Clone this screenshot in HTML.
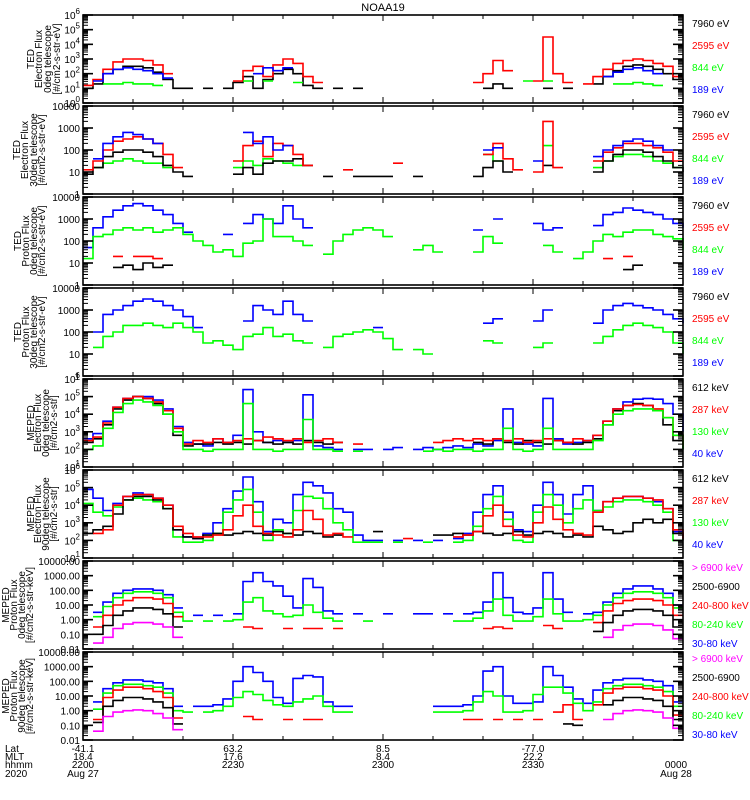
<!DOCTYPE html>
<html><head><meta charset="utf-8">
<style>
html,body{margin:0;padding:0;background:#fff;}
svg{display:block;font-family:"Liberation Sans","DejaVu Sans",sans-serif;}
</style></head>
<body>
<svg id="chart" width="750" height="800" viewBox="0 0 750 800" xmlns="http://www.w3.org/2000/svg">
<text x="383" y="11" font-size="11" text-anchor="middle">NOAA19</text>
<g id="panels"></g>
<g font-size="10">
<text x="5" y="752">Lat</text><text x="5" y="760">MLT</text><text x="5" y="768">hhmm</text><text x="5" y="777">2020</text>
<text x="83" y="752" text-anchor="middle">-41.1</text><text x="83" y="760" text-anchor="middle">18.4</text><text x="83" y="768" text-anchor="middle">2200</text><text x="83" y="777" text-anchor="middle">Aug 27</text>
<text x="233" y="752" text-anchor="middle">63.2</text><text x="233" y="760" text-anchor="middle">17.6</text><text x="233" y="768" text-anchor="middle">2230</text>
<text x="383" y="752" text-anchor="middle">8.5</text><text x="383" y="760" text-anchor="middle">8.4</text><text x="383" y="768" text-anchor="middle">2300</text>
<text x="533" y="752" text-anchor="middle">-77.0</text><text x="533" y="760" text-anchor="middle">22.2</text><text x="533" y="768" text-anchor="middle">2330</text>
<text x="676" y="768" text-anchor="middle">0000</text><text x="676" y="777" text-anchor="middle">Aug 28</text>
</g>
</svg>
<script>
const _=null;
const p1Black=[1.0,1.3,2.0,2.3,2.5,2.5,2.4,2.1,1.6,1.0, 1.0,_,1.0,_,1.0,1.4,1.8,1.0,1.6,2.0, 2.3,2.0,1.2,1.0,_,1.0,_,1.0,_,_, _,_,_,_,_,_,_,_,_,_, 1.0,1.3,1.0,_,_,_,1.0,_,1.0,_, _,1.3,1.8,2.2,2.5,2.6,2.5,2.3,2.0,1.6,1.2];
const p1Red=[1.2,1.6,2.3,2.8,3.0,3.0,2.9,2.6,2.0,_, _,_,_,_,_,1.5,2.2,2.5,1.8,2.6, 3.0,2.7,1.8,1.4,_,_,_,_,_,_, _,_,_,_,_,_,_,_,_,1.4, 2.0,2.9,2.2,_,_,1.5,4.5,2.0,1.4,_, 1.3,1.8,2.3,2.7,2.9,3.0,2.9,2.7,2.5,1.8,_];
const p1Green=[_,_,1.3,1.3,1.4,1.3,1.3,1.2,_,_, _,_,_,_,_,_,1.5,_,1.5,_, _,1.4,_,_,_,_,_,_,_,_, _,_,_,_,_,_,_,_,_,_, _,_,_,_,1.5,_,1.5,_,_,_, _,_,_,1.3,1.3,1.4,1.3,1.2,_,_,_];
const p1Blue=[_,1.5,2.0,2.3,2.4,2.3,2.2,2.0,1.7,_, _,_,_,_,_,_,_,2.0,2.4,2.2, 2.4,_,_,_,_,_,_,_,_,_, _,_,_,_,_,_,_,_,_,_, _,_,_,_,_,_,_,_,_,_, _,_,1.8,2.1,2.3,2.4,2.2,2.0,_,_,_];

const p2Black=[0.9,1.2,1.7,1.9,2.0,2.0,1.9,1.7,1.3,1.0, 0.8,_,_,_,_,0.9,1.2,0.9,1.4,1.5, 1.5,1.6,1.3,_,0.8,_,_,0.8,0.8,0.8, 0.8,_,_,0.8,_,_,_,_,_,0.8, 1.2,1.5,1.0,_,_,_,1.3,_,_,_, _,1.0,1.5,1.8,2.0,2.0,1.9,1.7,1.5,1.2,1.0];
const p2Red=[1.1,1.5,2.0,2.4,2.5,2.6,2.5,2.3,1.8,1.2, _,_,_,_,_,1.5,2.2,2.4,1.7,2.3, 2.2,1.8,1.3,_,_,_,1.1,_,_,_, _,1.4,_,_,_,_,_,_,_,_, 1.8,2.3,1.6,1.1,_,1.0,3.3,1.2,_,_, _,1.5,1.9,2.1,2.3,2.3,2.2,2.1,1.9,1.5,_];
const p2Green=[_,1.2,1.4,1.5,1.6,1.5,1.4,1.4,1.2,_, _,_,_,_,_,1.2,1.5,1.3,1.6,1.5, 1.4,1.3,_,_,_,_,_,_,_,_, _,_,_,_,_,_,_,_,_,_, 1.8,1.5,_,_,_,_,2.2,_,_,_, _,1.2,1.5,1.7,1.8,1.8,1.7,1.5,1.4,1.2,_];
const p2Blue=[_,1.6,2.3,2.6,2.8,2.7,2.5,2.3,_,_, _,_,_,_,_,_,2.8,2.3,2.6,2.0, 2.2,_,_,_,_,_,_,_,_,_, _,_,_,_,_,_,_,_,_,_, 2.0,2.1,_,_,_,1.5,_,_,_,_, _,1.7,2.0,2.2,2.4,2.5,2.4,2.2,2.0,_,_];

const p3Black=[_,_,_,0.8,0.9,0.7,1.0,0.8,0.9,_, _,_,_,_,_,_,_,_,_,_, _,_,_,_,_,_,_,_,_,_, _,_,_,_,_,_,_,_,_,_, _,_,_,_,_,_,_,_,_,_, _,_,_,_,0.7,0.9,_,_,_,_,_];
const p3Red=[_,_,_,1.3,_,1.3,1.3,1.2,_,_, _,_,_,_,_,_,_,_,_,_, _,_,_,_,_,_,_,_,_,_, _,_,_,_,_,_,_,_,_,_, _,_,_,_,_,_,_,_,_,_, _,_,1.2,_,1.3,_,_,_,_,_,_];
const p3Green=[1.2,2.2,2.3,2.5,2.6,2.5,2.6,2.4,2.5,2.6, 2.3,2.0,1.8,1.5,1.6,1.3,1.9,2.0,3.0,2.2, 2.2,2.0,1.8,_,1.4,2.0,2.3,2.5,2.6,2.5, 2.2,_,_,1.6,1.8,1.5,_,_,_,1.5, 2.2,1.9,_,_,_,_,1.8,1.5,_,1.2, 1.5,2.0,2.3,2.2,2.4,2.5,2.5,2.3,2.2,2.1,1.6];
const p3Blue=[1.7,2.6,3.1,3.4,3.6,3.7,3.6,3.4,3.2,2.8, 2.4,_,_,_,2.3,_,2.8,3.2,3.0,2.8, 3.6,3.0,2.6,_,_,_,_,_,_,_, _,_,_,_,_,_,_,_,_,2.5, _,3.0,_,_,_,2.8,2.5,2.6,_,_, _,2.7,3.2,3.3,3.5,3.4,3.3,3.2,3.0,2.8,2.6];

const p4Green=[_,1.3,1.8,2.0,2.3,2.3,2.4,2.3,2.2,2.4, 2.2,2.0,1.5,1.6,1.4,1.2,1.8,1.9,2.2,1.8, 1.9,1.6,1.5,_,1.3,1.8,1.9,2.0,2.1,2.0, 1.7,1.2,_,1.2,1.0,_,_,_,_,_, 1.6,1.5,_,_,_,1.3,1.5,_,_,_, _,1.5,1.8,2.1,2.3,2.4,2.3,2.2,2.0,1.5,1.0];
const p4Blue=[_,2.0,2.8,3.0,3.2,3.4,3.5,3.4,3.2,3.0, 2.7,2.2,_,_,_,_,2.5,3.2,3.0,2.8, 3.4,2.8,2.5,_,_,_,_,_,_,2.2, _,_,_,_,_,_,_,_,_,_, 2.4,2.6,_,_,_,2.5,3.0,_,_,_, _,2.4,3.0,3.2,3.3,3.2,3.1,3.0,2.8,2.6,2.4];

const p5Black=[2.4,2.6,3.4,4.3,4.8,5.0,4.9,4.6,4.0,2.8, 2.2,2.3,2.3,2.4,2.3,2.4,2.3,2.5,2.4,2.3, 2.4,2.3,2.5,2.4,2.3,2.4,_,_,_,_, _,_,_,_,_,_,_,_,_,2.4, 2.3,2.6,2.4,2.3,2.5,2.4,2.3,2.5,2.4,2.3, 2.4,2.6,3.4,4.2,4.5,4.6,4.5,4.2,3.4,2.5,2.0];
const p5Red=[2.5,2.7,3.5,4.4,4.9,5.0,4.9,4.7,4.2,3.2, 2.3,2.5,2.4,2.6,2.4,2.5,2.6,2.5,2.7,2.6, 2.5,2.6,2.4,2.5,2.6,2.4,_,2.3,_,_, _,_,_,_,_,2.4,2.5,2.6,2.5,2.6, 2.5,2.6,2.5,2.6,2.4,2.5,2.6,2.5,2.4,2.6, 2.5,2.8,3.6,4.3,4.5,4.55,4.5,4.3,3.8,2.8,2.2];
const p5Green=[2.0,2.2,3.2,4.1,4.6,4.8,4.7,4.5,4.0,3.0, 2.0,2.0,1.9,2.0,2.0,2.0,4.6,2.0,2.0,1.9, 2.0,2.0,3.7,2.0,2.0,1.9,_,1.9,_,_, _,_,_,_,1.9,2.0,1.9,2.0,2.0,1.9, 2.0,2.0,3.2,2.0,1.9,2.0,3.2,2.0,2.0,2.0, 2.0,2.5,3.4,4.0,4.2,4.3,4.3,4.2,3.8,2.8,2.0];
const p5Blue=[2.6,2.9,3.6,4.4,4.9,5.0,5.0,4.8,4.3,3.3, 2.4,2.3,2.2,2.6,2.4,2.8,5.4,3.0,2.4,2.5, 2.4,2.5,5.1,2.2,2.1,2.0,_,2.0,2.0,_, 2.0,2.1,_,2.0,2.1,2.0,2.1,2.2,2.1,2.3, 2.2,2.5,4.3,2.4,2.3,2.2,4.9,2.6,2.3,2.4, 2.5,2.8,3.6,4.3,4.7,4.85,4.9,4.85,4.6,4.0,3.0];

const p6Black=[2.4,2.6,2.8,3.5,4.3,4.5,4.5,4.3,3.8,2.6, 2.2,2.1,2.3,2.4,2.3,2.4,2.5,2.4,2.3,2.5, 2.4,2.3,2.5,2.4,2.2,2.3,_,_,_,2.5, _,_,_,_,_,2.3,2.3,2.4,2.3,2.5, 2.4,2.3,2.4,2.5,2.3,2.4,2.5,2.4,2.2,2.3, 2.2,2.8,2.6,2.4,2.5,3.0,3.2,3.0,3.2,2.4,2.0];
const p6Red=[_,2.4,2.6,4.0,4.5,4.6,4.6,4.4,4.0,2.8, 2.4,2.2,2.2,2.3,2.6,3.4,4.0,2.8,2.4,2.3, 2.2,2.6,3.7,3.2,2.3,2.4,2.2,_,_,_, _,_,2.1,_,_,_,_,2.2,2.3,2.5, 3.4,4.0,2.8,2.3,2.2,3.0,3.9,3.2,2.6,2.4, 2.3,3.6,4.2,4.4,4.5,4.5,4.4,4.3,3.8,2.6,2.1];
const p6Green=[4.1,3.6,3.4,3.9,4.3,4.4,4.3,4.2,3.8,2.2, 1.9,1.9,2.0,2.4,3.6,4.3,4.9,3.6,2.0,2.6, 2.4,3.7,4.5,4.4,3.8,3.0,2.6,1.9,1.9,1.9, _,1.9,_,_,1.9,_,_,1.9,2.0,2.8, 3.8,4.5,3.2,2.0,1.9,3.6,4.6,4.0,3.0,3.8, 4.3,3.7,3.9,4.2,4.3,4.3,4.2,4.0,3.6,2.0,2.0];
const p6Blue=[4.9,4.4,3.7,4.1,4.5,4.7,4.6,4.4,4.0,2.6, 2.2,2.1,2.4,3.0,3.8,4.8,5.6,4.2,2.5,3.2, 3.0,4.6,5.3,5.1,4.7,3.8,3.6,2.3,2.0,2.0, _,2.0,_,2.0,_,2.0,_,2.1,2.4,3.6, 4.6,5.1,3.6,2.6,2.5,4.0,5.3,4.6,3.5,4.6, 5.1,3.7,4.2,4.4,4.5,4.5,4.4,4.2,3.8,2.5,2.5];

const p7Magenta=[_,-1.6,-1.2,-0.6,-0.3,-0.2,-0.2,-0.3,-0.5,-1.2, _,_,_,_,_,_,_,_,_,_, _,_,_,_,_,_,_,_,_,_, _,_,_,_,_,_,_,_,_,_, _,_,_,_,_,_,_,_,_,_, _,_,-1.2,-0.7,-0.4,-0.3,-0.3,-0.4,-0.7,-1.3,_];
const p7Black=[_,-1.0,-0.4,0.3,0.6,0.8,0.8,0.7,0.4,-0.5, _,_,_,_,_,_,_,_,_,_, _,_,_,_,_,_,_,_,_,_, _,_,_,_,_,_,_,_,_,_, _,_,_,_,_,_,_,_,_,_, _,-0.8,-0.2,0.3,0.6,0.7,0.7,0.6,0.3,-0.5,_];
const p7Red=[_,-0.5,0.3,1.0,1.3,1.5,1.5,1.4,1.1,0.2, _,_,_,_,_,_,-0.5,-0.6,_,_, -0.6,_,-0.6,-0.6,_,-0.6,_,_,_,_, _,_,_,_,_,_,_,_,_,_, -0.6,-0.5,-0.6,_,_,_,-0.4,-0.6,_,_, _,-0.2,0.6,1.1,1.3,1.4,1.4,1.3,1.0,0.3,_];
const p7Green=[_,0.2,0.9,1.5,1.8,1.9,1.9,1.8,1.5,0.5, -0.1,_,-0.1,_,-0.1,0.0,1.2,1.5,0.6,0.4, 0.2,0.3,1.0,0.5,0.1,-0.1,_,_,-0.1,_, _,_,_,_,_,_,_,-0.1,-0.1,0.1, 0.6,1.4,0.3,-0.1,-0.1,0.2,1.4,0.4,-0.1,-0.1, 0.0,0.3,1.0,1.5,1.8,1.9,1.9,1.8,1.5,0.8,_];
const p7Blue=[_,0.5,1.2,1.8,2.0,2.1,2.1,2.0,1.7,0.8, _,0.3,_,0.3,_,0.4,2.6,3.2,2.6,2.3, 1.6,0.8,2.8,2.2,0.6,0.4,_,0.4,_,_, 0.4,_,_,0.4,0.4,_,0.4,_,0.4,0.5, 1.2,3.2,1.5,0.5,0.4,0.8,3.2,1.4,0.5,_, 0.4,0.5,1.2,1.8,2.1,2.3,2.3,2.1,1.8,1.0,_];

const p8Magenta=[_,-1.4,-0.4,-0.1,0.0,0.05,0.0,-0.2,-0.5,-1.3, _,_,_,_,_,_,_,_,_,_, _,_,_,_,_,_,_,_,_,_, _,_,_,_,_,_,_,_,_,_, _,_,_,_,_,_,_,_,_,_, _,_,-0.6,-0.2,0.0,0.05,0.0,-0.1,-0.5,-1.2,_];
const p8Black=[_,-0.8,0.3,0.7,0.9,0.9,0.8,0.6,0.2,-0.9, _,_,_,_,_,_,_,_,_,_, _,_,_,_,_,_,_,_,_,_, _,_,_,_,_,_,_,_,_,_, _,_,_,_,_,_,_,_,-0.9,-1.0, _,_,0.4,0.7,0.9,0.9,0.8,0.7,0.3,-0.6,_];
const p8Red=[_,-0.6,0.9,1.4,1.6,1.6,1.5,1.3,0.9,-0.5, _,_,_,_,_,_,-0.4,-0.6,_,_, -0.6,_,-0.6,-0.6,_,_,_,_,_,_, _,_,_,_,_,_,_,_,-0.6,-0.6, _,-0.6,_,-0.6,_,-0.6,_,-0.1,0.4,-0.6, _,0.4,1.2,1.5,1.6,1.6,1.5,1.4,1.0,-0.3,_];
const p8Green=[_,0.1,1.2,1.7,1.8,1.8,1.7,1.6,1.2,0.0, -0.1,_,-0.1,0.0,0.3,0.9,1.3,1.1,0.7,0.4, 0.3,0.6,0.8,1.0,0.3,-0.1,-0.1,_,_,_, _,_,_,_,_,-0.1,-0.1,-0.1,0.0,0.6, 1.3,1.0,-0.1,-0.1,0.0,1.1,1.6,1.6,1.2,0.5, 0.0,0.6,1.5,1.7,1.8,1.8,1.7,1.6,1.3,0.3,_];
const p8Blue=[_,0.6,1.5,1.9,2.1,2.1,2.0,1.9,1.5,0.3, _,0.3,0.3,0.4,0.8,2.0,3.0,2.6,2.0,0.9, 0.5,2.2,2.4,2.3,0.6,0.3,0.3,_,_,_, _,_,_,_,_,0.3,0.3,0.3,0.4,1.0, 2.7,3.0,1.0,0.5,0.5,0.6,3.0,2.4,1.6,0.8, 0.5,1.4,1.9,2.1,2.2,2.2,2.1,2.0,1.7,0.6,_];

const tedTicks=["1","10","100","1000","10000"];
const protTicks=["0.01","0.10","1.00","10.00","100.00","1000.00","10000.00"];
const tedLegend=["7960 eV","2595 eV","844 eV","189 eV"];
const mepedELegend=["612 keV","287 keV","130 keV","40 keV"];
const mepedPLegend=["> 6900 keV","2500-6900","240-800 keV","80-240 keV","30-80 keV"];

const C={k:"#000",r:"#ff0000",g:"#00ff00",b:"#0000ff",m:"#ff00ff"};
const panels=[
 {name:"ted-electron-0deg",min:0,max:6,sup:true,tx:[30,38,47,56],labels:["TED","Electron Flux","0deg telescope","[#/cm2-s-str-eV]"],legend:tedLegend,lc:["k","r","g","b"],series:[["black",p1Black,"k"],["red",p1Red,"r"],["blue",p1Blue,"b"],["green",p1Green,"g"]]},
 {name:"ted-electron-30deg",min:0,max:4,ticks:tedTicks,tx:[16,24,33,41],labels:["TED","Electron Flux","30deg telescope","[#/cm2-s-str-eV]"],legend:tedLegend,lc:["k","r","g","b"],series:[["green",p2Green,"g"],["black",p2Black,"k"],["red",p2Red,"r"],["blue",p2Blue,"b"]]},
 {name:"ted-proton-0deg",min:0,max:4,ticks:tedTicks,tx:[17,25,33,41],labels:["TED","Proton Flux","0deg telescope","[#/cm2-s-str-eV]"],legend:tedLegend,lc:["k","r","g","b"],series:[["blue",p3Blue,"b"],["green",p3Green,"g"],["red",p3Red,"r"],["black",p3Black,"k"]]},
 {name:"ted-proton-30deg",min:0,max:4,ticks:tedTicks,tx:[17,25,33,41],labels:["TED","Proton Flux","30deg telescope","[#/cm2-s-str-eV]"],legend:tedLegend,lc:["k","r","g","b"],series:[["blue",p4Blue,"b"],["green",p4Green,"g"]]},
 {name:"meped-electron-0deg",min:1,max:6,sup:true,tx:[30,37,45,53],labels:["MEPED","Electron Flux","0deg telescope","[#/cm2-s-str]"],legend:mepedELegend,lc:["k","r","g","b"],series:[["blue",p5Blue,"b"],["black",p5Black,"k"],["red",p5Red,"r"],["green",p5Green,"g"]]},
 {name:"meped-electron-90deg",min:1,max:6,sup:true,tx:[30,37,45,53],labels:["MEPED","Electron Flux","90deg telescope","[#/cm2-s-str]"],legend:mepedELegend,lc:["k","r","g","b"],series:[["blue",p6Blue,"b"],["green",p6Green,"g"],["black",p6Black,"k"],["red",p6Red,"r"]]},
 {name:"meped-proton-0deg",min:-2,max:4,ticks:protTicks,tx:[5,13,21,29],labels:["MEPED","Proton Flux","0deg telescope","[#/cm2-s-str-keV]"],legend:mepedPLegend,lc:["m","k","r","g","b"],series:[["blue",p7Blue,"b"],["green",p7Green,"g"],["red",p7Red,"r"],["black",p7Black,"k"],["magenta",p7Magenta,"m"]]},
 {name:"meped-proton-90deg",min:-2,max:4,ticks:protTicks,tx:[5,13,21,29],labels:["MEPED","Proton Flux","90deg telescope","[#/cm2-s-str-keV]"],legend:mepedPLegend,lc:["m","k","r","g","b"],series:[["blue",p8Blue,"b"],["green",p8Green,"g"],["red",p8Red,"r"],["black",p8Black,"k"],["magenta",p8Magenta,"m"]]}
];

const NS="http://www.w3.org/2000/svg";
const L=83,R=683,TOP0=15,STEP=91,H=88;
const xScale=t=>L+(R-L)*t/120;
function mk(tag,attrs,parent){const e=document.createElementNS(NS,tag);for(const k in attrs)e.setAttribute(k,attrs[k]);parent.appendChild(e);return e;}
const root=document.getElementById("panels");

panels.forEach((p,pi)=>{
  const top=TOP0+pi*STEP,bot=top+H;
  const yScale=v=>bot-(Math.max(p.min,Math.min(p.max,v))-p.min)/(p.max-p.min)*H;
  const g=mk("g",{},root);
  
  
  // y axis title (drawn first so tick labels sit on top)
  const cy=top+H/2;
  p.labels.forEach((ln,li)=>{
    const t=mk("text",{x:0,y:0,"font-size":"10","text-anchor":"middle",transform:"translate("+(p.tx[li]+4)+","+cy+") rotate(-90)"},g);
    
    
    t.textContent=ln;
  });
  p.series.forEach(s=>{
    const vals=s[1];let d="";let prev=false;
    vals.forEach((v,i)=>{
      if(v===null){prev=false;return;}
      const x0=xScale(i*2),x1=Math.min(R,xScale(i*2+2)),y=yScale(v);
      d+=(prev?"L":"M")+x0.toFixed(1)+" "+y.toFixed(1)+"L"+x1.toFixed(1)+" "+y.toFixed(1);
      prev=true;
    });
    const path=mk("path",{d:d,fill:"none",stroke:C[s[2]],"stroke-width":"1.6"},g);
    
    
  });
  const fr=mk("rect",{x:L,y:top,width:R-L,height:H,fill:"none",stroke:"#000","stroke-width":"1.6"},g);
  
  
  const ax=mk("g",{stroke:"#000","stroke-width":"1"},g);
  
  
  const lab=mk("g",{},g);
  for(let dec=p.min;dec<=p.max;dec++){
    const y=yScale(dec);
    mk("line",{x1:L,x2:L+10,y1:y,y2:y,"stroke-width":"1.6"},ax);
    mk("line",{x1:R,x2:R-10,y1:y,y2:y,"stroke-width":"1.6"},ax);
    if(dec<p.max){for(let m=2;m<=9;m++){const ym=yScale(dec+Math.log10(m));
      mk("line",{x1:L,x2:L+5,y1:ym,y2:ym},ax);mk("line",{x1:R,x2:R-5,y1:ym,y2:ym},ax);}}
    const t=mk("text",{x:L-3,y:y+4,"font-size":"10","text-anchor":"end",stroke:"none"},lab);
    
    
    if(p.sup){t.textContent="10";const ts=mk("tspan",{dy:"-5","font-size":"8"},t);ts.textContent=String(dec);}
    else t.textContent=p.ticks[dec-p.min];
  }
  for(let k=0;k<=12;k++){const x=xScale(k*10),len=(k%3===0)?6:4;
    mk("line",{x1:x,x2:x,y1:bot,y2:bot-len},ax);mk("line",{x1:x,x2:x,y1:top,y2:top+len},ax);}
  const n=p.legend.length,sp=n===5?19:22;
  p.legend.forEach((lb,li)=>{
    const t=mk("text",{x:692,y:top+(n===5?10:12)+li*sp,"font-size":"10",fill:C[p.lc[li]]},g);
    
    
    t.textContent=lb;
  });
});
</script>
</body></html>
